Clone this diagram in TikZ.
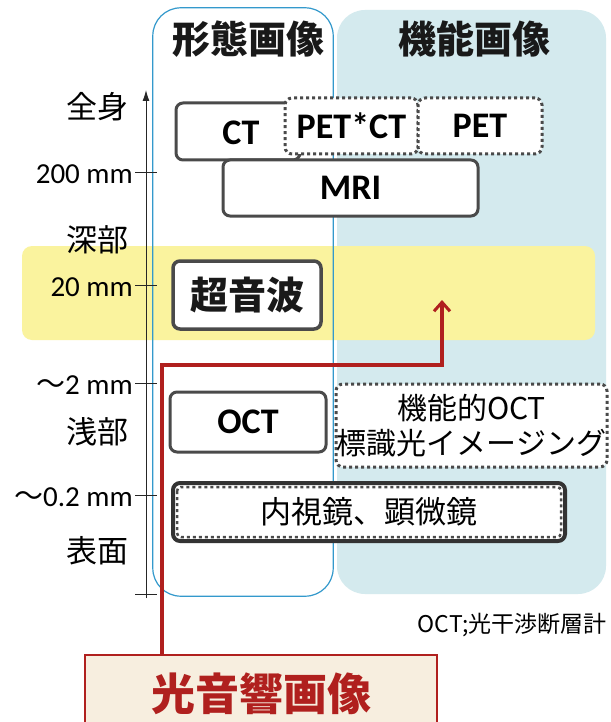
\documentclass[tikz,border=0pt]{standalone}
\usepackage{fontspec}
\setmainfont{Carlito}
\newfontfamily\cjk{Noto Sans CJK JP}
\newfontfamily\cjkheavy{Noto Sans CJK JP Black}
\newfontfamily\cjkbold{Noto Sans CJK JP Bold}
\usetikzlibrary{arrows.meta}
\definecolor{panelblue}{HTML}{D4EAEE}
\definecolor{lineblue}{HTML}{3399CC}
\definecolor{bandyellow}{HTML}{FAF39E}
\definecolor{boxgray}{HTML}{4A4A4A}
\definecolor{darkred}{HTML}{B0201E}
\definecolor{beige}{HTML}{F7EEDF}
\begin{document}
\begin{tikzpicture}[x=1pt,y=-1pt,
  solidbox/.style={draw=boxgray, line width=3pt, rounded corners=7pt, fill=white, inner sep=0pt},
  dotbox/.style={draw=boxgray, line width=3pt, dash pattern=on 3pt off 3pt, rounded corners=7pt, fill=white, inner sep=0pt},
  latinlbl/.style={font=\bfseries\fontsize{36}{36}\selectfont},
  scalelbl/.style={anchor=east, inner sep=0pt, font=\fontsize{29}{29}\selectfont},
  depthlbl/.style={inner sep=0pt, font=\cjk\fontsize{31}{31}\selectfont},
  tick/.style={line width=0.8pt, black!85},
  titlelbl/.style={inner sep=0pt, font=\cjkheavy\fontsize{38}{38}\selectfont, text=black!90}
]
\useasboundingbox (0,0) rectangle (610,722);
\fill[white] (0,0) rectangle (610,722);
% panels
\node[fill=panelblue, rounded corners=28pt, minimum width=269pt, minimum height=584pt, inner sep=0pt] (rpanel) at (471.5,302) {};
\node[fill=white, rounded corners=28pt, minimum width=180pt, minimum height=588pt, inner sep=0pt] (lpanel) at (243,302) {};
\node[titlelbl] (ltitle) at (248,39) {形態画像};
\node[titlelbl] (rtitle) at (474,39) {機能画像};
% yellow band
\node[fill=bandyellow, rounded corners=10pt, minimum width=573pt, minimum height=94pt, inner sep=0pt] (band) at (308.5,293) {};
\draw[lineblue, line width=1.2pt, rounded corners=28pt] (lpanel.north west) rectangle (lpanel.south east);
% axis
\coordinate (axbot) at (146,598);
\coordinate (axtop) at (146,90);
\draw[line width=0.9pt, black!85, -{Latex[length=11pt,width=7pt]}] (axbot) -- (axtop);
\foreach \yy/\nm in {172/t1,285/t2,383/t3,495/t4,594/t5}{
  \coordinate (\nm l) at (135,\yy);
  \coordinate (\nm r) at (157,\yy);
  \draw[tick] (\nm l) -- (\nm r);
}
\node[scalelbl] (l200) at (133,174) {200 mm};
\node[scalelbl] (l20) at (133,287) {20 mm};
\node[scalelbl] (l2) at (133,385) {{\cjk ～}2 mm};
\node[scalelbl] (l02) at (133,497) {{\cjk ～}0.2 mm};
\node[depthlbl] (zen) at (97,107) {全身};
\node[depthlbl] (shin) at (97,240) {深部};
\node[depthlbl] (sen) at (97,432) {浅部};
\node[depthlbl] (hyo) at (97,551) {表面};
% modality boxes
\node[solidbox, minimum width=124pt, minimum height=57pt] (ct) at (238,131.5) {};
\node[latinlbl, inner sep=0pt] (cttxt) at (241,133) {CT};
\node[solidbox, minimum width=255pt, minimum height=56pt] (mri) at (350.5,188) {};
\node[latinlbl, inner sep=0pt] at (mri) {MRI};
\node[dotbox, minimum width=133pt, minimum height=56pt, latinlbl] (petct) at (351.5,126) {PET*CT};
\node[dotbox, minimum width=124pt, minimum height=56pt, latinlbl] (pet) at (480,126) {PET};
\node[solidbox, line width=3.5pt, minimum width=148pt, minimum height=68pt, font=\cjkheavy\fontsize{38}{38}\selectfont, text=black!90] (us) at (247,295) {超音波};
\node[solidbox, minimum width=156pt, minimum height=60pt, latinlbl] (oct) at (248,422) {OCT};
\node[dotbox, minimum width=271pt, minimum height=83pt, font=\cjk\fontsize{30}{30}\selectfont, align=center] (foct) at (471.5,425.5) {機能的OCT\\[5pt]標識光イメージング};
\node[solidbox, draw=black!80, line width=4pt, minimum width=392pt, minimum height=58pt, font=\cjk\fontsize{31}{31}\selectfont] (endo) at (369,512) {内視鏡、顕微鏡};
\draw[boxgray, line width=2.5pt, dash pattern=on 3pt off 3pt, rounded corners=4pt] ([xshift=6pt,yshift=-6pt]endo.north west) rectangle ([xshift=-6pt,yshift=6pt]endo.south east);
% footnote
\node[anchor=east, inner sep=0pt, font=\cjk\fontsize{23}{23}\selectfont] (note) at (607,625) {OCT;光干渉断層計};
% photoacoustic
\node[draw=darkred, line width=2pt, fill=beige, minimum width=352pt, minimum height=74pt, inner sep=0pt] (pa) at (261,692) {};
\node[inner sep=0pt, text=darkred, font=\cjkheavy\fontsize{44}{44}\selectfont] (patxt) at (261,694) {光音響画像};
\coordinate (rstart) at (pa.north -| 162,0);
\coordinate (rbend) at (162,365);
\coordinate (rtip) at (442,300);
\draw[darkred, line width=3.5pt, -{Straight Barb[length=9pt,width=16pt,line width=3pt]}] (rstart) -- (rbend) -| (rtip);
\end{tikzpicture}
\end{document}
